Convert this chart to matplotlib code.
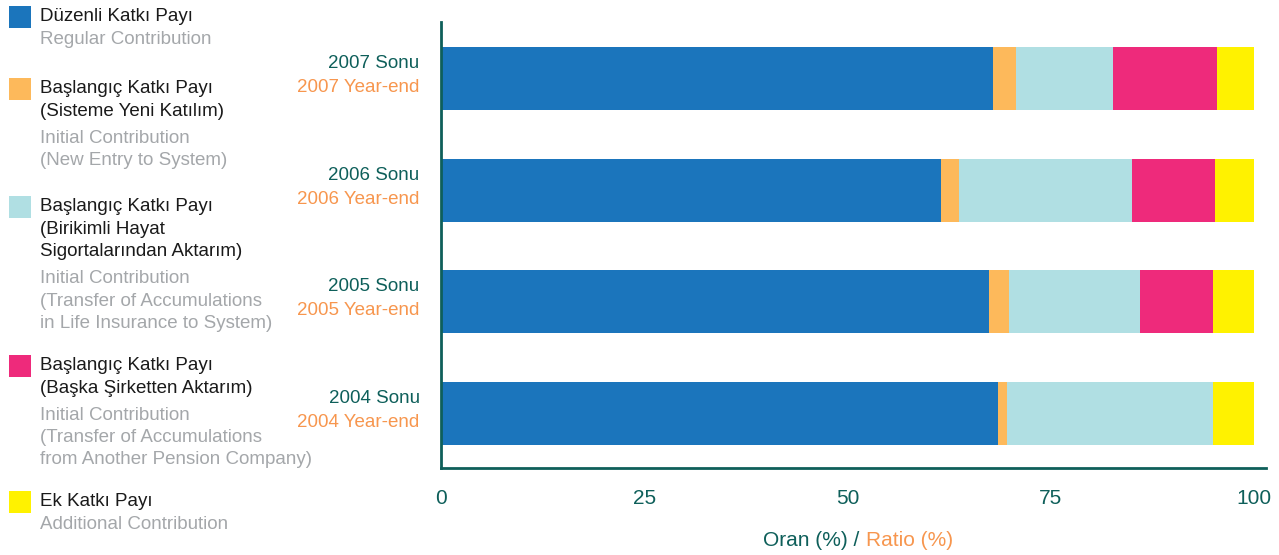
import matplotlib
matplotlib.use("Agg")
import matplotlib.pyplot as plt
from matplotlib.patches import Rectangle
from matplotlib.transforms import blended_transform_factory, offset_copy

# ---- data ----
years = ["2004", "2005", "2006", "2007"]
cat_tr = [f"{y} Sonu" for y in years]
cat_en = [f"{y} Year-end" for y in years]

regular = [68.5, 67.4, 61.5, 67.9]
initial_new = [1.1, 2.5, 2.2, 2.9]
initial_life = [25.4, 16.1, 21.3, 11.9]
initial_other = [0.0, 9.0, 10.2, 12.8]
additional = [5.0, 5.0, 4.8, 4.5]

series = [regular, initial_new, initial_life, initial_other, additional]
colors = ["#1B75BC", "#FDB95B", "#B0DFE3", "#EE2A7B", "#FFF200"]
legend_tr = [["Düzenli Katkı Payı"],
             ["Başlangıç Katkı Payı", "(Sisteme Yeni Katılım)"],
             ["Başlangıç Katkı Payı", "(Birikimli Hayat", "Sigortalarından Aktarım)"],
             ["Başlangıç Katkı Payı", "(Başka Şirketten Aktarım)"],
             ["Ek Katkı Payı"]]
legend_en = [["Regular Contribution"],
             ["Initial Contribution", "(New Entry to System)"],
             ["Initial Contribution", "(Transfer of Accumulations", "in Life Insurance to System)"],
             ["Initial Contribution", "(Transfer of Accumulations", "from Another Pension Company)"],
             ["Additional Contribution"]]
xticks = [0, 25, 50, 75, 100]

TEAL = "#0E5F5A"
ORANGE = "#F7964E"
GREY = "#A4A7AA"
BLACK = "#1A1A1A"
FONT = "Liberation Sans"

W, H = 1279, 555
fig = plt.figure(figsize=(W / 100, H / 100), dpi=100)

def fx(px):
    return px / W

def fy(py):
    return 1 - py / H

ax = fig.add_axes([fx(441), fy(468), fx(1266) - fx(441), fy(22) - fy(468)])

ypos = list(range(len(years)))
left = [0.0] * len(years)
for vals, c in zip(series, colors):
    ax.barh(ypos, vals, left=left, height=0.565, color=c, linewidth=0)
    left = [l + v for l, v in zip(left, vals)]

ax.set_xlim(0, 101.5)
ax.set_ylim(-0.49, 3.51)
for s in ["top", "right"]:
    ax.spines[s].set_visible(False)
for s in ["left", "bottom"]:
    ax.spines[s].set_color(TEAL)
    ax.spines[s].set_linewidth(2.0)
ax.set_yticks([])
ax.set_xticks(xticks)
ax.set_xticklabels([str(t) for t in xticks], fontsize=15, color=TEAL, family=FONT)
ax.tick_params(axis="x", length=0, pad=15)

trans = blended_transform_factory(ax.transAxes, ax.transData)
for i in ypos:
    ax.text(-0.026, i, cat_tr[i], transform=offset_copy(trans, fig=fig, y=11, units="points"),
            ha="right", va="center", fontsize=13.5, color=TEAL, family=FONT)
    ax.text(-0.026, i, cat_en[i], transform=offset_copy(trans, fig=fig, y=-6.5, units="points"),
            ha="right", va="center", fontsize=13.5, color=ORANGE, family=FONT)

# x-axis title in two colours
fig.text(fx(859), fy(546), "Oran (%) /", ha="right", va="baseline", fontsize=15,
         color=TEAL, family=FONT)
fig.text(fx(866), fy(546), "Ratio (%)", ha="left", va="baseline", fontsize=15,
         color=ORANGE, family=FONT)

# legend
sq_top = [6, 78, 196, 355, 491]
for top, c, tr, en in zip(sq_top, colors, legend_tr, legend_en):
    fig.patches.append(Rectangle((fx(9), fy(top + 22)), fx(22), fy(0) - fy(22),
                                 transform=fig.transFigure, color=c, linewidth=0))
    base = top + 14.8
    for line in tr:
        fig.text(fx(40), fy(base), line, ha="left", va="baseline", fontsize=13.5,
                 color=BLACK, family=FONT)
        base += 22.8
    if len(tr) > 1:
        base += 4.2
    for line in en:
        fig.text(fx(40), fy(base), line, ha="left", va="baseline", fontsize=13.5,
                 color=GREY, family=FONT)
        base += 22.3

fig.savefig("out.png", dpi=100)
